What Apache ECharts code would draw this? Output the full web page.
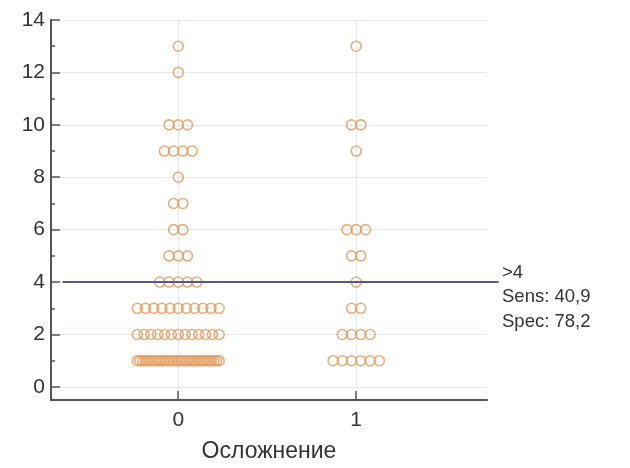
<!DOCTYPE html>
<html>
<head>
<meta charset="utf-8">
<script src="https://cdn.jsdelivr.net/npm/echarts@6/dist/echarts.min.js"></script>
<style>html,body{margin:0;padding:0;background:#fff;}#c{width:630px;height:468px;}</style>
</head>
<body>
<div id="c"></div>
<script>
// Data: value levels and number of cases at each level, per group
const groups = [0, 1];
const levels = [1, 2, 3, 4, 5, 6, 7, 8, 9, 10, 11, 12, 13];
const counts0 = [32, 13, 11, 5, 3, 2, 2, 1, 4, 3, 0, 1, 1];
const counts1 = [6, 4, 2, 1, 2, 3, 0, 0, 1, 2, 0, 0, 1];
const yTicks = [0, 2, 4, 6, 8, 10, 12, 14];
const yMinorTicks = [1, 3, 5, 7, 9, 11, 13];
const cutoff = 4;
const cutoffSpan = [-0.65, 1.8];
const annot = ['>4', 'Sens: 40,9', 'Spec: 78,2'];
const xName = 'Осложнение';

// dot-plot layout (side-by-side placement of equal values)
const baseStep = 0.052, maxSpan = 0.46;
function build(g, counts) {
  const pts = [];
  levels.forEach((v, i) => {
    const n = counts[i];
    if (!n) return;
    const step = n > 1 ? Math.min(baseStep, maxSpan / (n - 1)) : 0;
    for (let k = 0; k < n; k++) pts.push([g + (k - (n - 1) / 2) * step, v]);
  });
  return pts;
}
const pts = build(groups[0], counts0).concat(build(groups[1], counts1));

const chart = echarts.init(document.getElementById('c'));
const font = 'Liberation Sans, Arial, sans-serif';
chart.setOption({
  animation: false,
  grid: { left: 51, right: 143, top: 20, bottom: 68 },
  xAxis: {
    type: 'value', min: -0.715, max: 1.735,
    name: xName, nameLocation: 'middle', nameGap: 40,
    nameTextStyle: { fontSize: 23, color: '#333', fontFamily: font },
    axisLine: { onZero: false, lineStyle: { color: '#555', width: 2 } },
    axisTick: { inside: true, length: 9, customValues: groups, lineStyle: { color: '#555', width: 1.5 } },
    axisLabel: { customValues: groups, fontSize: 21, color: '#333', fontFamily: font, margin: 10 },
    splitLine: { show: true, lineStyle: { color: '#E6EAF0', width: 1 } }
  },
  yAxis: [{
    type: 'value', min: -0.5, max: 14, position: 'left', offset: 0,
    axisLine: { show: true, onZero: false, lineStyle: { color: '#555', width: 2 } },
    axisTick: { show: true, inside: true, length: 9, customValues: yTicks, lineStyle: { color: '#555', width: 1.5 } },
    axisLabel: { customValues: yTicks, fontSize: 21, color: '#333', fontFamily: font, margin: 6 },
    splitLine: { show: true, lineStyle: { color: '#E6EAF0', width: 1 } }
  }, {
    type: 'value', min: -0.5, max: 14, position: 'left', offset: 0,
    axisLine: { show: false, onZero: false },
    axisTick: { show: true, inside: true, length: 4, customValues: yMinorTicks, lineStyle: { color: '#555', width: 1.5 } },
    axisLabel: { show: false },
    splitLine: { show: false }
  }],
  series: [{
    type: 'scatter', data: pts, symbol: 'circle', symbolSize: 10,
    itemStyle: { color: 'rgba(255,255,255,0)', borderColor: '#E3995A', borderWidth: 1.6 },
    z: 3
  }, {
    type: 'custom', clip: false, z: 4,
    data: [[cutoffSpan[0], cutoffSpan[1], cutoff]],
    renderItem: function (params, api) {
      const p1 = api.coord([api.value(0), api.value(2)]);
      const p2 = api.coord([api.value(1), api.value(2)]);
      return { type: 'line', shape: { x1: p1[0], y1: p1[1], x2: p2[0], y2: p2[1] },
               style: { stroke: '#55579A', lineWidth: 2 } };
    }
  }],
  graphic: annot.map((t, i) => ({
    type: 'text', left: 502, top: 263 + i * 24.5,
    style: { text: t, fontSize: 18.5, fill: '#333', fontFamily: font }
  }))
});
</script>
</body>
</html>
